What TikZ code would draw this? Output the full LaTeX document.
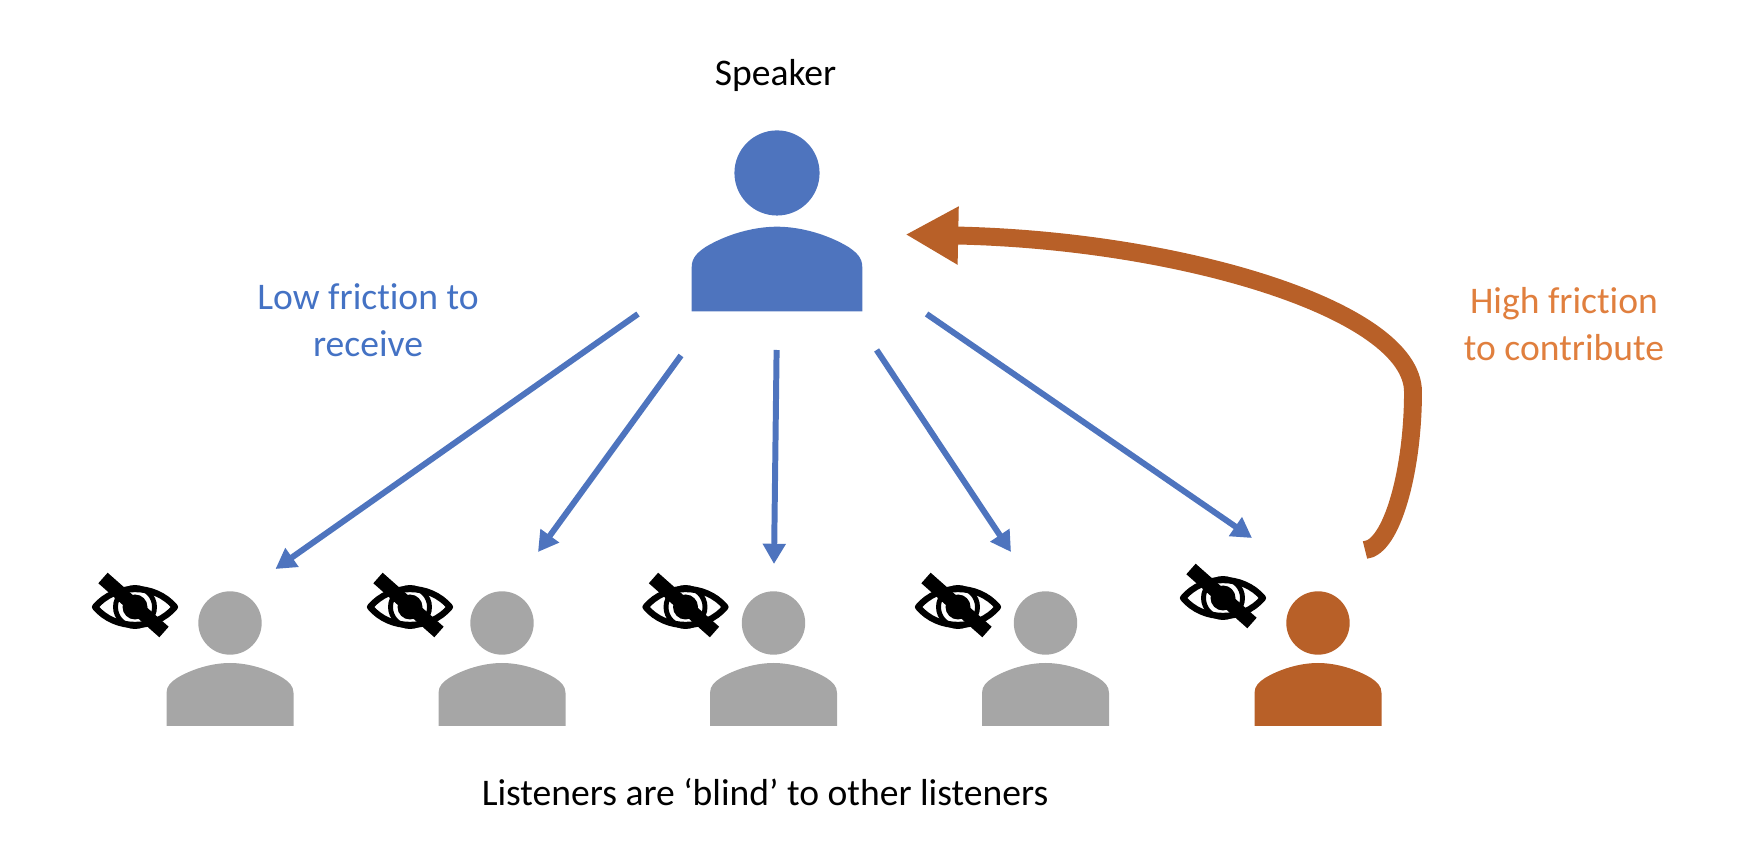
\documentclass[tikz,border=0pt]{standalone}
\usepackage{fontspec}
\setmainfont[Ligatures=NoCommon]{Carlito}
\usetikzlibrary{arrows.meta,positioning}
\definecolor{TalkBlue}{HTML}{4E74BE}
\definecolor{TalkBrown}{HTML}{B86028}
\definecolor{TalkGray}{HTML}{A6A6A6}
\definecolor{TextBlue}{HTML}{4472C4}
\definecolor{TextOrange}{HTML}{E07F3E}
\tikzset{
  caption/.style={font=\fontsize{21.4}{26.5}\selectfont, align=center},
  talk/.style={-{Triangle[length=11.5pt,width=12.5pt]}, line width=3.4pt, TalkBlue},
  back/.style={-{Triangle[length=30pt,width=31pt]}, line width=10.2pt, TalkBrown},
  person/.pic={
    \fill[#1] (0,-103) circle (31.7);
    \fill[#1] (-63.5,0) -- (-63.5,-33) .. controls (-63.5,-40) and (-59,-44) .. (-53,-48)
      .. controls (-38,-57) and (-18,-63) .. (0,-63)
      .. controls (18,-63) and (38,-57) .. (53,-48)
      .. controls (59,-44) and (63.5,-40) .. (63.5,-33) -- (63.5,0) -- cycle;
  },
  noeye/.pic={
    \draw[line width=3.6pt, line join=round] (-40,0) .. controls (-20,-24) and (20,-24) .. (40,0)
      .. controls (20,24) and (-20,24) .. (-40,0) -- cycle;
    \draw[line width=2.8pt] (0,0) circle (19.5);
    \fill (0,0) circle (12.5);
    \draw[line width=8pt] (-32,-29) -- (29,25);
  }
}
\begin{document}
\begin{tikzpicture}[x=0.02cm, y=-0.02cm]
  \useasboundingbox (0,0) rectangle (1742,864);
  \node[caption] (speaker) at (775.5,75) {Speaker};
  \node[caption, TextBlue] (low) at (368,320) {Low friction to\\receive};
  \node[caption, TextOrange] (high) at (1564,324) {High friction\\to contribute};
  \node[caption] (blind) at (765,792.5) {Listeners are ‘blind’ to other listeners};

  \pic[scale=1.343] at (777,311.3) {person=TalkBlue};
  \pic at (230,726) {person=TalkGray};
  \pic at (502,726) {person=TalkGray};
  \pic at (773.5,726) {person=TalkGray};
  \pic at (1045.5,726) {person=TalkGray};
  \pic at (1318,726) {person=TalkBrown};

  \pic at (135,607) {noeye};
  \pic at (410,607) {noeye};
  \pic at (685.5,607) {noeye};
  \pic at (958,607) {noeye};
  \pic at (1223,598) {noeye};

  \coordinate (from1) at (638,314);
  \coordinate (from2) at (681,355.5);
  \coordinate (from3) at (776.6,350);
  \coordinate (from4) at (876.6,350);
  \coordinate (from5) at (926.6,314);
  \coordinate (to1) at (275.5,569);
  \coordinate (to2) at (538,552);
  \coordinate (to3) at (774,564);
  \coordinate (to4) at (1011,552);
  \coordinate (to5) at (1252,538);
  \coordinate (fromback) at (1365,550);
  \coordinate (toback) at (905.5,234.5);

  \draw[talk] (from1) -- (to1);
  \draw[talk] (from2) -- (to2);
  \draw[talk] (from3) -- (to3);
  \draw[talk] (from4) -- (to4);
  \draw[talk] (from5) -- (to5);
  \draw[back] (fromback) .. controls (1392,548) and (1413,470) .. (1413,392)
    .. controls (1413,310) and (1180,240) .. (toback);
\end{tikzpicture}
\end{document}
